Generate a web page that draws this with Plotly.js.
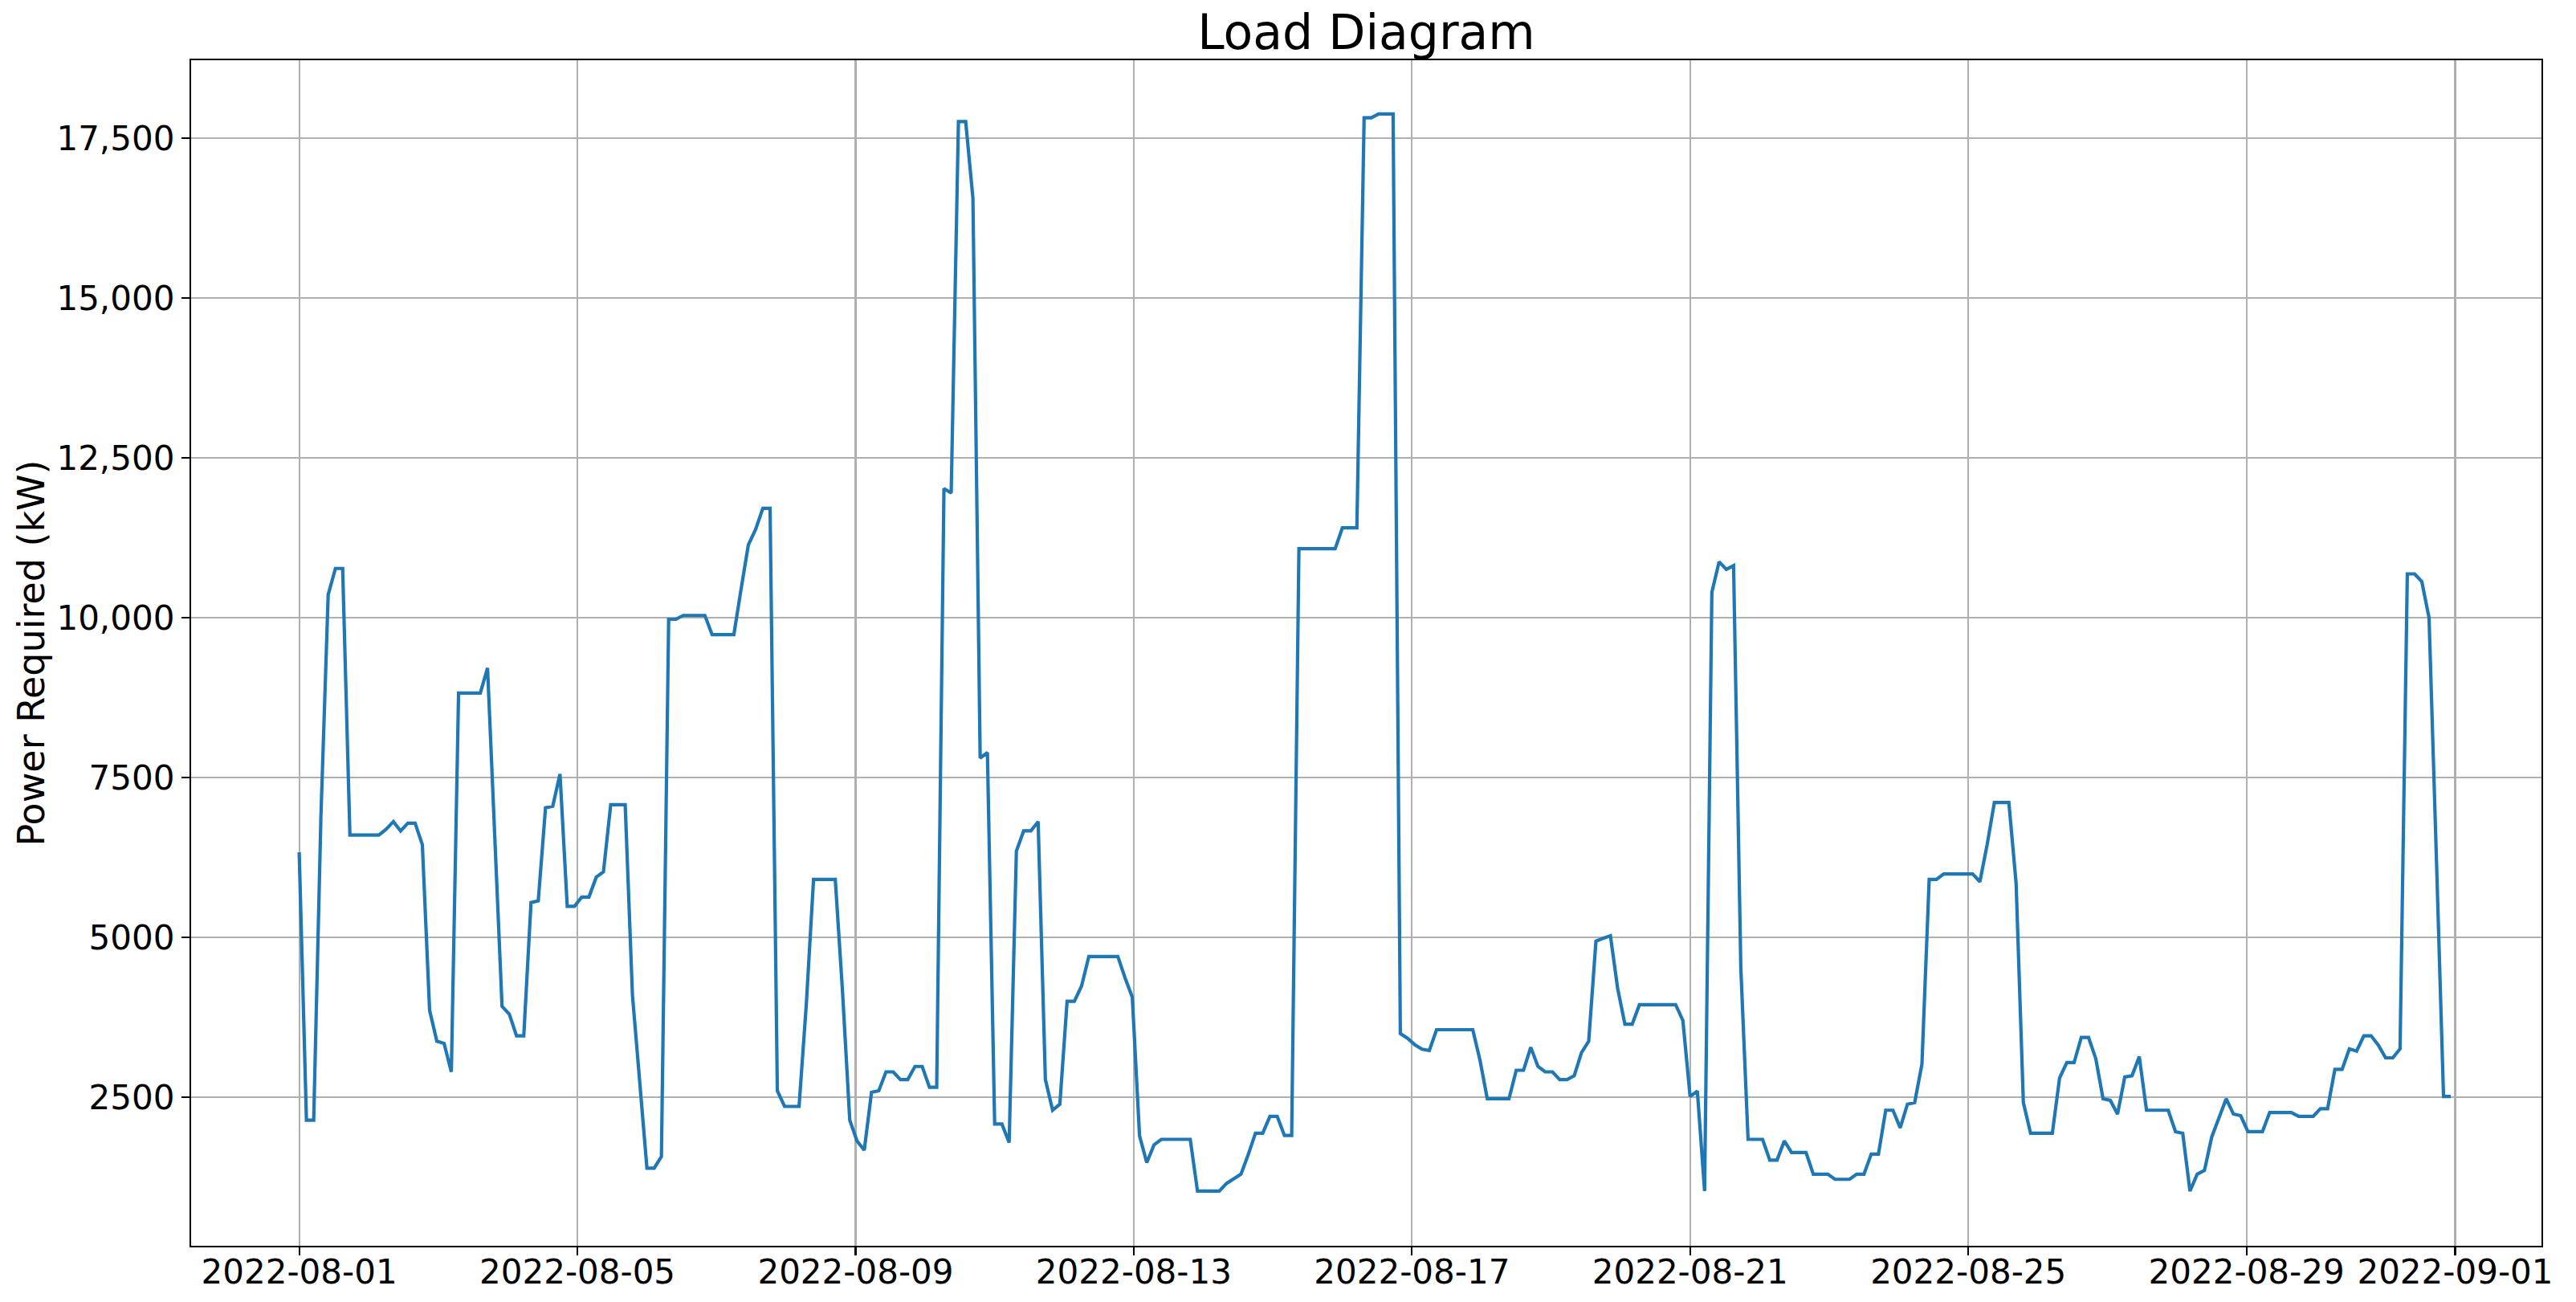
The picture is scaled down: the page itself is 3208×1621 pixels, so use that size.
<!DOCTYPE html>
<html><head><meta charset="utf-8">
<script src="https://cdn.plot.ly/plotly-3.0.1.min.js"></script>
<style>html,body{margin:0;padding:0;background:#fff}#chart{width:3208px;height:1621px}</style>
</head><body><div id="chart"></div>
<script>
// Sampling of the series
const startTime = '2022-08-01T00:00:00Z';
const stepHours = 2.5;

// Power required (kW), one value per 2.5 h step
const powerKW = [
  6330, 2140, 2140, 6900, 10360, 10770, 10770, 6600, 6600, 6600,
  6600, 6600, 6690, 6810, 6665, 6785, 6785, 6450, 3860, 3375,
  3340, 2895, 8820, 8820, 8820, 8820, 9215, 6570, 3920, 3800,
  3460, 3460, 5545, 5570, 7025, 7050, 7555, 5485, 5485, 5630,
  5630, 5940, 6025, 7075, 7075, 7075, 4100, 2700, 1390, 1390,
  1570, 9975, 9975, 10035, 10035, 10035, 10035, 9735, 9735, 9735,
  9735, 10450, 11140, 11380, 11710, 11710, 2600, 2355, 2355, 2355,
  3950, 5905, 5905, 5905, 5905, 4150, 2140, 1815, 1670, 2575,
  2600, 2895, 2895, 2775, 2775, 2980, 2980, 2655, 2655, 12020,
  11950, 17760, 17760, 16560, 7805, 7890, 2080, 2080, 1790, 6350,
  6665, 6665, 6810, 2775, 2295, 2390, 4000, 4000, 4240, 4700,
  4700, 4700, 4700, 4700, 4365, 4065, 1895, 1475, 1755, 1840,
  1840, 1840, 1840, 1840, 1030, 1030, 1030, 1030, 1150, 1220,
  1295, 1600, 1935, 1935, 2200, 2200, 1900, 1900, 11080, 11080,
  11080, 11080, 11080, 11080, 11405, 11405, 11405, 17820, 17820, 17880,
  17880, 17880, 3495, 3420, 3320, 3250, 3230, 3555, 3555, 3555,
  3555, 3555, 3555, 3075, 2475, 2475, 2475, 2475, 2920, 2920,
  3280, 2980, 2895, 2895, 2775, 2775, 2835, 3195, 3375, 4940,
  4985, 5025, 4200, 3640, 3640, 3945, 3945, 3945, 3945, 3945,
  3945, 3700, 2510, 2595, 1030, 10395, 10875, 10755, 10815, 4520,
  1840, 1840, 1840, 1515, 1515, 1815, 1635, 1635, 1635, 1295,
  1295, 1295, 1215, 1215, 1215, 1295, 1295, 1610, 1610, 2295,
  2295, 2020, 2390, 2415, 3015, 5905, 5905, 5990, 5990, 5990,
  5990, 5990, 5870, 6450, 7110, 7110, 7110, 5845, 2415, 1935,
  1935, 1935, 1935, 2800, 3040, 3040, 3435, 3435, 3100, 2475,
  2450, 2235, 2815, 2835, 3135, 2295, 2295, 2295, 2295, 1960,
  1935, 1030, 1295, 1355, 1875, 2175, 2475, 2235, 2210, 1960,
  1960, 1960, 2260, 2260, 2260, 2260, 2200, 2200, 2200, 2320,
  2320, 2935, 2935, 3255, 3220, 3460, 3460, 3315, 3115, 3115,
  3255, 10685, 10685, 10565, 10000, 6300, 2510, 2510
];

// Axis ticks
const xTickVals = ['2022-08-01', '2022-08-05', '2022-08-09', '2022-08-13', '2022-08-17',
                   '2022-08-21', '2022-08-25', '2022-08-29', '2022-09-01'];
const xTickText = ['2022-08-01', '2022-08-05', '2022-08-09', '2022-08-13', '2022-08-17',
                   '2022-08-21', '2022-08-25', '2022-08-29', '2022-09-01'];
const yTickVals = [2500, 5000, 7500, 10000, 12500, 15000, 17500];
const yTickText = ['2500', '5000', '7500', '10,000', '12,500', '15,000', '17,500'];

function fmt(ms) { return new Date(ms).toISOString().slice(0, 19).replace('T', ' '); }
const t0 = Date.parse(startTime);
const HOUR = 3600e3;
const times = powerKW.map((_, i) => fmt(t0 + i * stepHours * HOUR));

const font = 'DejaVu Sans, Liberation Sans, sans-serif';
const trace = {
  type: 'scatter', mode: 'lines', x: times, y: powerKW,
  line: {color: '#1f77b4', width: 4.2}, hoverinfo: 'x+y', showlegend: false
};

const axisCommon = {
  showline: true, mirror: true, linecolor: '#000', linewidth: 2.2,
  ticks: 'outside', ticklen: 10, tickwidth: 2.2, tickcolor: '#000',
  showgrid: true, gridcolor: '#b0b0b0', gridwidth: 2.2, zeroline: false,
  tickfont: {family: font, size: 42, color: '#000'}
};

const layout = {
  width: 3208, height: 1621,
  paper_bgcolor: '#fff', plot_bgcolor: '#fff',
  margin: {l: 238, r: 43, t: 75, b: 70, pad: 0},
  title: {text: 'Load Diagram', font: {family: font, size: 60, color: '#000'},
          x: 0.5, xref: 'paper', xanchor: 'center', y: 1 - 40 / 1621, yref: 'container', yanchor: 'middle'},
  xaxis: Object.assign({}, axisCommon, {
    type: 'date', tickmode: 'array', tickvals: xTickVals, ticktext: xTickText,
    ticklabelstandoff: -16,
    range: [fmt(t0 - 37.3 * HOUR), fmt(t0 + 773.8 * HOUR)]
  }),
  yaxis: Object.assign({}, axisCommon, {
    tickmode: 'array', tickvals: yTickVals, ticktext: yTickText,
    range: [175, 18720],
    title: {text: 'Power Required (kW)', font: {family: font, size: 46, color: '#000'}, standoff: 0}
  })
};

Plotly.newPlot('chart', [trace], layout, {displayModeBar: false, staticPlot: true});
</script>
</body></html>
